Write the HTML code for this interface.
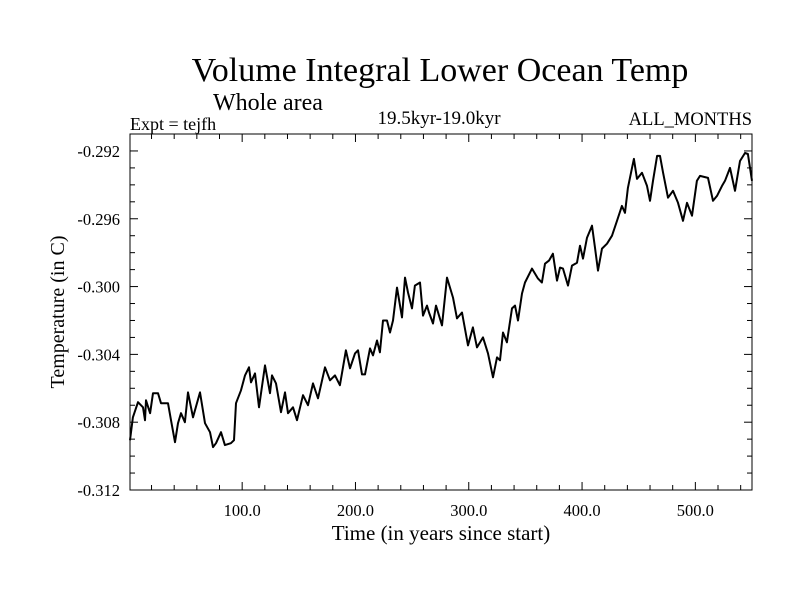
<!DOCTYPE html>
<html><head><meta charset="utf-8"><style>
body{margin:0;background:#fff}
svg text{font-family:"Liberation Serif",serif;fill:#000}
</style></head><body>
<svg id="chart" width="800" height="600" viewBox="0 0 800 600">
<text x="440" y="81" font-size="34" text-anchor="middle">Volume Integral Lower Ocean Temp</text>
<text x="268" y="110" font-size="24" text-anchor="middle">Whole area</text>
<text x="130" y="130" font-size="18">Expt = tejfh</text>
<text x="439" y="124" font-size="19" text-anchor="middle">19.5kyr-19.0kyr</text>
<text x="752" y="125" font-size="18.5" text-anchor="end">ALL_MONTHS</text>
<text x="441" y="540" font-size="21" text-anchor="middle">Time (in years since start)</text>
<text x="0" y="0" font-size="20" text-anchor="middle" transform="translate(64,312) rotate(-90)">Temperature (in C)</text>
<g id="axes"></g>
<path id="series" fill="none" stroke="#000" stroke-width="2" stroke-linejoin="round"></path>
<rect x="130" y="134" width="622" height="356" fill="none" stroke="#000" stroke-width="1"></rect>
</svg>
<script>
const years=[1,3.6,8.1,12.5,14.2,15.1,18.7,21.3,25.7,28.4,34.5,37.2,40.7,43.4,46,49.5,52.2,56.6,62.8,67.2,71.6,74.3,76.9,81.3,84.8,90.1,92.8,94.6,99,102.5,106,107.8,111.3,114.9,120.2,124.6,126.3,129.9,134.3,137.8,140.5,144.9,148.4,153.7,158.1,162.5,166.9,173.1,177.5,181.9,186.3,189,191.6,195.2,199.6,202.2,205.8,208.4,212.8,215.5,219,221.6,224.3,227.8,230.5,233.1,236.7,241.1,243.7,246.4,249.9,252.5,257,259.6,263.1,264.9,268.4,271.1,276.4,280.8,286.1,289.6,294,299.3,303.7,307.3,312.6,317,321.4,324.9,327.6,330.2,333.7,338.2,340.8,343.5,347,349.6,355.8,361.1,364.6,367.3,370.8,374.3,377.9,380.5,383.2,387.6,391.1,395.5,398.2,400.8,404.4,408.8,411.4,414.1,417.6,422,426.4,430.8,435.2,437.9,440.5,444.1,445.8,448.5,452.9,457.3,460,462.6,466.2,468.8,471.5,475.9,480.3,484.7,489.1,492.6,497,501.4,504.1,511.2,515.6,519.1,523.5,526.2,530.6,535,539.4,543.8,546.4,550];
const temps=[-0.30906,-0.30771,-0.30682,-0.30712,-0.30788,-0.30671,-0.30747,-0.30629,-0.30629,-0.30688,-0.30688,-0.30788,-0.30918,-0.30806,-0.30747,-0.30800,-0.30624,-0.30771,-0.30624,-0.30806,-0.30859,-0.30947,-0.30924,-0.30859,-0.30935,-0.30924,-0.30906,-0.30688,-0.30612,-0.30524,-0.30476,-0.30565,-0.30512,-0.30712,-0.30465,-0.30629,-0.30524,-0.30571,-0.30741,-0.30624,-0.30747,-0.30712,-0.30788,-0.30641,-0.30700,-0.30571,-0.30659,-0.30476,-0.30553,-0.30524,-0.30582,-0.30476,-0.30376,-0.30482,-0.30394,-0.30376,-0.30518,-0.30518,-0.30365,-0.30406,-0.30318,-0.30388,-0.30200,-0.30200,-0.30271,-0.30200,-0.30006,-0.30182,-0.29947,-0.30035,-0.30129,-0.29994,-0.29976,-0.30171,-0.30112,-0.30153,-0.30218,-0.30112,-0.30229,-0.29947,-0.30065,-0.30188,-0.30153,-0.30347,-0.30241,-0.30359,-0.30300,-0.30394,-0.30535,-0.30418,-0.30435,-0.30271,-0.30329,-0.30129,-0.30112,-0.30200,-0.30041,-0.29976,-0.29894,-0.29953,-0.29976,-0.29865,-0.29847,-0.29806,-0.29965,-0.29888,-0.29894,-0.29994,-0.29876,-0.29859,-0.29759,-0.29835,-0.29712,-0.29641,-0.29771,-0.29906,-0.29776,-0.29747,-0.29700,-0.29612,-0.29524,-0.29565,-0.29418,-0.29300,-0.29247,-0.29365,-0.29329,-0.29406,-0.29494,-0.29376,-0.29229,-0.29229,-0.29329,-0.29476,-0.29435,-0.29506,-0.29612,-0.29506,-0.29582,-0.29376,-0.29347,-0.29359,-0.29494,-0.29465,-0.29406,-0.29376,-0.29300,-0.29435,-0.29259,-0.29212,-0.29218,-0.29376];
const xMajorTicks=[100,200,300,400,500];
const xTickLabels=["100.0","200.0","300.0","400.0","500.0"];
const yMajorTicks=[-0.292,-0.296,-0.300,-0.304,-0.308,-0.312];
const yTickLabels=["-0.292","-0.296","-0.300","-0.304","-0.308","-0.312"];
const L=130,R=752,T=134,B=490,X0=1,X1=550,Y0=-0.312,Y1=-0.291;
function xs(v){return L+(v-X0)/(X1-X0)*(R-L);}
function ys(v){return B-(v-Y0)/(Y1-Y0)*(B-T);}
const NS="http://www.w3.org/2000/svg";
const g=document.getElementById('axes');
function line(x1,y1,x2,y2,name){const l=document.createElementNS(NS,'line');l.setAttribute('x1',x1);l.setAttribute('y1',y1);l.setAttribute('x2',x2);l.setAttribute('y2',y2);l.setAttribute('stroke','#000');l.setAttribute('stroke-width','1');


g.appendChild(l);}
function txt(x,y,s,anchor,name){const t=document.createElementNS(NS,'text');t.setAttribute('x',x);t.setAttribute('y',y);t.setAttribute('font-size','16.5');t.setAttribute('text-anchor',anchor);t.textContent=s;


g.appendChild(t);}
for(let v=20;v<=540;v+=20){const x=xs(v);const len=(v%100===0)?8:5;line(x,B,x,B-len,'x-tick');line(x,T,x,T+len,'x-tick-top');}
xMajorTicks.forEach((v,i)=>txt(xs(v),516,xTickLabels[i],'middle','x-tick-label'));
for(let k=0;k<=20;k++){const v=-0.312+k*0.001;const y=ys(v);const major=(k%4===0);const len=major?8:5;line(L,y,L+len,y,'y-tick');line(R,y,R-len,y,'y-tick-right');}
yMajorTicks.forEach((v,i)=>txt(120,ys(v)+6,yTickLabels[i],'end','y-tick-label'));
let d='';years.forEach((yr,i)=>{d+=(i?'L':'M')+xs(yr).toFixed(1)+' '+ys(temps[i]).toFixed(1);});
document.getElementById('series').setAttribute('d',d);
</script>
</body></html>
